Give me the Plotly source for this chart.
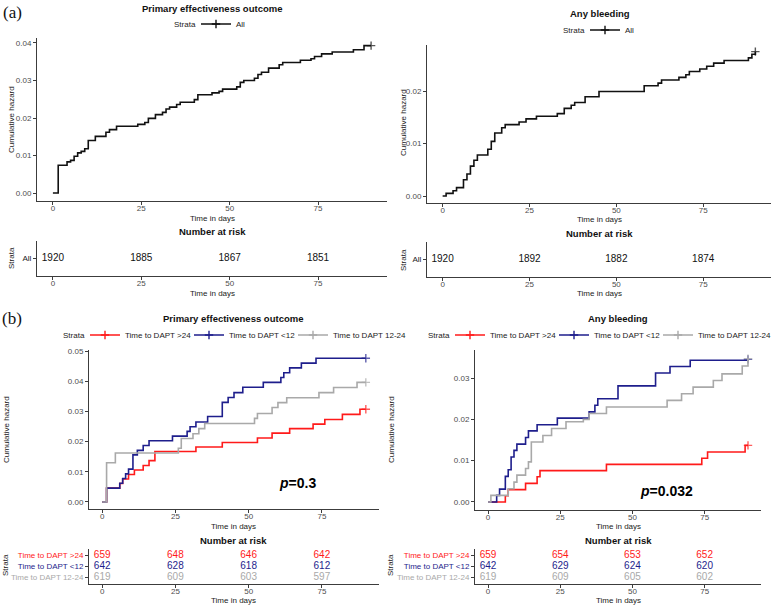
import plotly.graph_objects as go

# ---------------- DATA ----------------
days_ticks = [0, 25, 50, 75]

# (a) Primary effectiveness outcome, All
a_eff_t = [0, 1.5, 4, 5, 6, 7, 8, 9, 10, 12, 15, 16, 18, 24, 26, 27, 29, 31, 32, 33, 35, 36, 40, 41,
           45, 47, 48, 52, 53, 54, 57, 58, 59, 61, 64, 65, 70, 73, 74, 76, 79, 85, 88, 90]
a_eff_h = [0, .0074, .0083, .0087, .0098, .0107, .0111, .0118, .0140, .0151, .0162, .0169, .0178, .0183,
           .0188, .0199, .0209, .0215, .0224, .0229, .0236, .0242, .0249, .0262, .0267, .0271, .0277,
           .0283, .0295, .0300, .0306, .0316, .0322, .0333, .0342, .0348, .0354, .0358, .0364, .0371,
           .0376, .0382, .0393, .0393]

# (a) Any bleeding, All
a_bld_t = [0, 1, 3, 4, 6, 7, 8, 9, 10, 13, 14, 15, 17, 18, 22, 24, 27, 33, 35, 37, 38, 41, 45, 58, 62,
           63, 68, 70, 71, 74, 76, 78, 81, 88, 89, 90]
a_bld_h = [0, .0005, .0010, .0016, .0031, .0042, .0057, .0068, .0078, .0089, .0104, .0120, .0130, .0136,
           .0141, .0147, .0152, .0157, .0167, .0173, .0178, .0189, .0199, .0210, .0215, .0221, .0226,
           .0231, .0237, .0242, .0247, .0253, .0258, .0263, .0270, .0275]

# (b) Primary effectiveness outcome by strata
b_eff_red_t = [0, 1.5, 6, 7, 9, 11, 14, 16, 18, 32, 41, 53, 58, 64, 72, 76, 82, 88, 90]
b_eff_red_h = [0, .0046, .0061, .0076, .0091, .0106, .0121, .0137, .0167, .0182, .0197, .0212, .0228,
               .0243, .0258, .0273, .0290, .0307, .0307]
b_eff_blue_t = [0, 1.5, 6, 7, 8, 9, 10.5, 12, 14, 16, 24, 29, 30, 32, 36, 41, 43, 45, 48, 55, 61, 62,
                64, 68, 73, 90]
b_eff_blue_h = [0, .0046, .0062, .0078, .0093, .0109, .0156, .0171, .0187, .0203, .0218, .0234, .0249,
                .0265, .0283, .0330, .0346, .0362, .0380, .0396, .0412, .0428, .0444, .0460, .0476, .0476]
b_eff_grey_t = [0, 1.5, 4.5, 26, 27, 31, 33, 35, 52, 53, 58, 60, 63, 74, 79, 87, 90]
b_eff_grey_h = [0, .0130, .0162, .0178, .0210, .0226, .0243, .0260, .0277, .0293, .0313, .0329, .0345,
                .0362, .0379, .0396, .0396]

# (b) Any bleeding by strata
b_bld_red_t = [0, 6, 7, 13, 17, 18, 41, 74, 76, 89, 90]
b_bld_red_h = [0, .0015, .0030, .0045, .0061, .0076, .0091, .0106, .0121, .0137, .0137]
b_bld_blue_t = [0, 3, 4, 6, 7, 8, 9, 10, 13, 14, 17, 24, 35, 37, 38, 45, 58, 63, 70, 90]
b_bld_blue_h = [0, .0016, .0031, .0062, .0078, .0109, .0125, .0140, .0156, .0172, .0187, .0203, .0218,
                .0234, .0250, .0281, .0312, .0328, .0343, .0345]
b_bld_grey_t = [0, 1, 7, 9, 10, 13, 14, 15, 19, 22, 27, 33, 35, 41, 62, 67, 71, 78, 81, 88, 90]
b_bld_grey_h = [0, .0016, .0032, .0048, .0065, .0081, .0097, .0145, .0161, .0178, .0194, .0200, .0214,
                .0230, .0246, .0262, .0278, .0294, .0310, .0329, .0347]

# Numbers at risk
risk_times = [0, 25, 50, 75]
a_eff_risk = [1920, 1885, 1867, 1851]
a_bld_risk = [1920, 1892, 1882, 1874]
strata_names = ["Time to DAPT >24", "Time to DAPT <12", "Time to DAPT 12-24"]
b_eff_risk = {"Time to DAPT >24": [659, 648, 646, 642],
              "Time to DAPT <12": [642, 628, 618, 612],
              "Time to DAPT 12-24": [619, 609, 603, 597]}
b_bld_risk = {"Time to DAPT >24": [659, 654, 653, 652],
              "Time to DAPT <12": [642, 629, 624, 620],
              "Time to DAPT 12-24": [619, 609, 605, 602]}

# ---------------- STYLE ----------------
W, H = 774, 606
FONT = "Liberation Sans, Arial, sans-serif"
RED, BLUE, GREY, BLACK = "#FF1A1A", "#1E1E8C", "#A9A9A9", "#111111"
strata_colors = {"Time to DAPT >24": RED, "Time to DAPT <12": BLUE, "Time to DAPT 12-24": GREY}
TICKC = "#4D4D4D"
LINEC = "#3C3C3C"


def fx(p):
    return p / W


def fy(p):
    return 1 - p / H


fig = go.Figure()


def step_trace(t, h, color, ax, name):
    sizes = [0] * (len(t) - 1) + [6]
    fig.add_trace(go.Scatter(
        x=t, y=h, mode="lines+markers", line=dict(color=color, width=1.6, shape="hv"),
        marker=dict(symbol="cross-thin", size=sizes, line=dict(color=color, width=1.4)),
        xaxis="x" + ax, yaxis="y" + ax, showlegend=False, hoverinfo="skip", name=name))


def legend_key(color, ax, name, leg):
    fig.add_trace(go.Scatter(
        x=[None], y=[None], mode="lines+markers", line=dict(color=color, width=1.6),
        marker=dict(symbol="cross-thin", size=6, line=dict(color=color, width=1.4)),
        xaxis="x" + ax, yaxis="y" + ax, name=name, legend=leg, showlegend=True))


# one legend per strata entry so entries can be packed tightly like the original
leg_b_eff = {strata_names[0]: "legend3", strata_names[1]: "legend5", strata_names[2]: "legend7"}
leg_b_bld = {strata_names[0]: "legend4", strata_names[1]: "legend6", strata_names[2]: "legend8"}

# (a) curves
step_trace(a_eff_t, a_eff_h, BLACK, "", "All")
legend_key(BLACK, "", "All", "legend")
step_trace(a_bld_t, a_bld_h, BLACK, "2", "All")
legend_key(BLACK, "2", "All", "legend2")

# (b) curves
for nm, t, h in [(strata_names[0], b_eff_red_t, b_eff_red_h),
                 (strata_names[1], b_eff_blue_t, b_eff_blue_h),
                 (strata_names[2], b_eff_grey_t, b_eff_grey_h)]:
    step_trace(t, h, strata_colors[nm], "3", nm)
    legend_key(strata_colors[nm], "3", nm, leg_b_eff[nm])
for nm, t, h in [(strata_names[0], b_bld_red_t, b_bld_red_h),
                 (strata_names[1], b_bld_blue_t, b_bld_blue_h),
                 (strata_names[2], b_bld_grey_t, b_bld_grey_h)]:
    step_trace(t, h, strata_colors[nm], "4", nm)
    legend_key(strata_colors[nm], "4", nm, leg_b_bld[nm])

# risk tables
fig.add_trace(go.Scatter(x=risk_times, y=[1] * 4, mode="text", text=[str(v) for v in a_eff_risk],
                         textfont=dict(size=10, color="#111111", family=FONT), xaxis="x5", yaxis="y5",
                         showlegend=False, hoverinfo="skip"))
fig.add_trace(go.Scatter(x=risk_times, y=[1] * 4, mode="text", text=[str(v) for v in a_bld_risk],
                         textfont=dict(size=10, color="#111111", family=FONT), xaxis="x6", yaxis="y6",
                         showlegend=False, hoverinfo="skip"))
for ax, table in [("7", b_eff_risk), ("8", b_bld_risk)]:
    for i, nm in enumerate(strata_names):
        fig.add_trace(go.Scatter(x=risk_times, y=[3 - i] * 4, mode="text",
                                 text=[str(v) for v in table[nm]],
                                 textfont=dict(size=10, color=strata_colors[nm], family=FONT),
                                 xaxis="x" + ax, yaxis="y" + ax, showlegend=False, hoverinfo="skip"))

XR = [-4.5, 94.5]
base_x = dict(range=XR, tickvals=days_ticks, ticks="outside", ticklen=3, tickwidth=1, tickcolor=LINEC,
              showline=True, linecolor=LINEC, linewidth=1, showgrid=False, zeroline=False,
              ticklabelstandoff=-4,
              tickfont=dict(size=8, color=TICKC, family=FONT), fixedrange=True)
base_y = dict(ticks="outside", ticklen=3, tickwidth=1, tickcolor=LINEC, showline=True, linecolor=LINEC,
              linewidth=1, showgrid=False, zeroline=False, tickfont=dict(size=8, color=TICKC, family=FONT),
              fixedrange=True)


def dom_x(a, b):
    return [fx(a), fx(b)]


def dom_y(top, bottom):
    return [fy(bottom), fy(top)]


layout_axes = {}
plots = [
    ("", (37, 387), (38, 201), [-0.00213, 0.04133], [0, .01, .02, .03, .04], ["0.00", "0.01", "0.02", "0.03", "0.04"]),
    ("2", (427, 771), (45, 203), [-0.00133, 0.02876], [0, .01, .02], ["0.00", "0.01", "0.02"]),
    ("3", (89, 379), (350, 509), [-0.00232, 0.05033], [0, .01, .02, .03, .04, .05],
     ["0.00", "0.01", "0.02", "0.03", "0.04", "0.05"]),
    ("4", (475, 761), (350, 510), [-0.00194, 0.03678], [0, .01, .02, .03], ["0.00", "0.01", "0.02", "0.03"]),
]
for ax, xd, yd, yr, yt, ytt in plots:
    n = ax if ax else ""
    layout_axes["xaxis" + n] = dict(base_x, domain=dom_x(*xd), anchor="y" + n)
    layout_axes["yaxis" + n] = dict(base_y, domain=dom_y(*yd), anchor="x" + n, range=yr,
                                    tickvals=yt, ticktext=ytt)

sp = lambda nm, c: '<span style="color:%s">%s</span>' % (c, nm.replace(">", "&gt;").replace("<", "&lt;"))
tables = [
    ("5", (37, 387), (241, 276), [0.4, 1.6], [1], ["All"]),
    ("6", (427, 771), (242, 277), [0.4, 1.6], [1], ["All"]),
    ("7", (89, 379), (549, 584), [0.4, 3.6], [3, 2, 1], [sp(n, strata_colors[n]) for n in strata_names]),
    ("8", (475, 761), (549, 584), [0.4, 3.6], [3, 2, 1], [sp(n, strata_colors[n]) for n in strata_names]),
]
for ax, xd, yd, yr, yt, ytt in tables:
    layout_axes["xaxis" + ax] = dict(base_x, domain=dom_x(*xd), anchor="y" + ax)
    layout_axes["yaxis" + ax] = dict(base_y, domain=dom_y(*yd), anchor="x" + ax, range=yr,
                                     tickvals=yt, ticktext=ytt,
                                     tickfont=dict(size=8, color="#222222", family=FONT))

ann = []


def text(x, y, s, size=8, color="#222222", bold=False, angle=0, family=FONT, xanchor="center"):
    ann.append(dict(x=fx(x), y=fy(y), xref="paper", yref="paper", text=("<b>%s</b>" % s) if bold else s,
                    showarrow=False, textangle=angle, xanchor=xanchor, yanchor="middle",
                    font=dict(size=size, color=color, family=family)))


TF = 9.5
text(12, 12, "(a)", size=17, color="#111111", family="Liberation Serif, Times New Roman, serif")
text(12, 318, "(b)", size=17, color="#111111", family="Liberation Serif, Times New Roman, serif")
text(212, 8, "Primary effectiveness outcome", size=TF, color="#111111", bold=True)
text(600, 14, "Any bleeding", size=TF, color="#111111", bold=True)
text(233, 318, "Primary effectiveness outcome", size=TF, color="#111111", bold=True)
text(618, 318, "Any bleeding", size=TF, color="#111111", bold=True)
text(212, 232, "Number at risk", size=TF, color="#111111", bold=True)
text(599, 233, "Number at risk", size=TF, color="#111111", bold=True)
text(233, 540, "Number at risk", size=TF, color="#111111", bold=True)
text(618, 540, "Number at risk", size=TF, color="#111111", bold=True)
for x, y in [(212, 218), (599, 219), (233, 526), (618, 526), (212, 293), (599, 293), (233, 600), (618, 600)]:
    text(x, y, "Time in days")
for x, y in [(12, 120), (403, 122), (6, 430), (391, 430)]:
    text(x, y, "Cumulative hazard", angle=-90)
for x, y in [(12, 258), (403, 260), (5, 565), (390, 565)]:
    text(x, y, "Strata", angle=-90)
# legend titles "Strata" (right edge given)
for x, y in [(198, 24), (587, 30), (87, 335), (452, 335)]:
    text(x, y, "Strata", xanchor="right")
text(297, 483, "<i>p</i>=0.3", size=14, color="#000000", bold=True)
text(666, 491, "<i>p</i>=0.032", size=14, color="#000000", bold=True)

leg_common = dict(orientation="h", xanchor="left", yanchor="middle", xref="paper", yref="paper",
                  bgcolor="rgba(0,0,0,0)", font=dict(size=8, color="#222222", family=FONT),
                  itemwidth=30, itemclick=False, itemdoubleclick=False, borderwidth=0)

STEP = 104
fig.update_layout(
    width=W, height=H, margin=dict(l=0, r=0, t=0, b=0, autoexpand=False),
    paper_bgcolor="white", plot_bgcolor="white",
    font=dict(family=FONT, size=8, color="#222222"),
    annotations=ann,
    legend=dict(leg_common, x=fx(196), y=fy(24)),
    legend2=dict(leg_common, x=fx(585), y=fy(30)),
    legend3=dict(leg_common, x=fx(85), y=fy(335)),
    legend5=dict(leg_common, x=fx(85 + STEP), y=fy(335)),
    legend7=dict(leg_common, x=fx(85 + 2 * STEP), y=fy(335)),
    legend4=dict(leg_common, x=fx(450), y=fy(335)),
    legend6=dict(leg_common, x=fx(450 + STEP), y=fy(335)),
    legend8=dict(leg_common, x=fx(450 + 2 * STEP), y=fy(335)),
    **layout_axes,
)

fig.write_html("out.html", config={"displayModeBar": False},
               post_script="document.body.style.margin='0';")
